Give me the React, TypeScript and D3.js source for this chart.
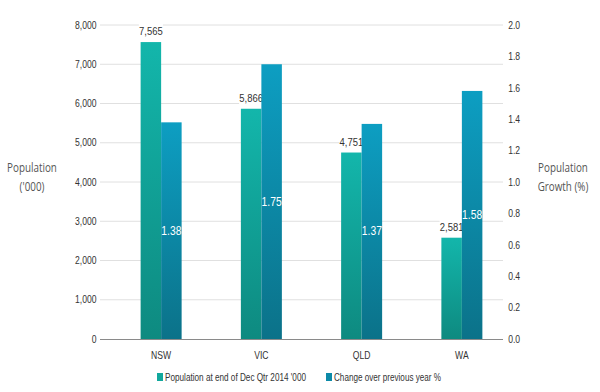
import { useRef, useEffect } from "react";
import * as d3 from "d3";

const states = ["NSW", "VIC", "QLD", "WA"];
const population = [7565, 5866, 4751, 2581];
const growth = [1.38, 1.75, 1.37, 1.58];
const leftTicks = [0, 1000, 2000, 3000, 4000, 5000, 6000, 7000, 8000];
const rightTicks = [0, 0.2, 0.4, 0.6, 0.8, 1.0, 1.2, 1.4, 1.6, 1.8, 2.0];
const seriesNames = ["Population at end of Dec Qtr 2014 '000", "Change over previous year %"];

const W = 600;
const H = 392;
const SX = 0.86;
const FONT = "'Liberation Sans', Arial, sans-serif";

export default function App() {
  const svgRef = useRef<SVGSVGElement>(null);

  useEffect(() => {
    document.body.style.margin = "0";
    if (!svgRef.current) return;
    const svg = d3.select(svgRef.current);
    svg.selectAll("*").remove();

    const plot = { left: 100, right: 503, top: 25, bottom: 339 };

    const x = d3.scaleBand().domain(states).range([111, 512]).padding(0);
    const x1 = d3.scaleBand().domain(["pop", "growth"]).range([-20.5, 20.5]);
    const yL = d3.scaleLinear().domain([0, 8000]).range([plot.bottom, plot.top]);
    const yR = d3.scaleLinear().domain([0, 2]).range([plot.bottom, plot.top]);

    const defs = svg.append("defs");
    const grads = [
      { id: "gPop", top: "#13b6ab", bottom: "#0e8a80" },
      { id: "gGrowth", top: "#0d9ec2", bottom: "#0b7289" },
    ];
    grads.forEach((g) => {
      const lg = defs.append("linearGradient").attr("id", g.id).attr("x1", 0).attr("y1", 0).attr("x2", 0).attr("y2", 1);
      lg.append("stop").attr("offset", "0%").attr("stop-color", g.top);
      lg.append("stop").attr("offset", "100%").attr("stop-color", g.bottom);
    });

    // gridlines
    svg
      .append("g")
      .selectAll("line")
      .data(leftTicks.filter((t) => t > 0))
      .join("line")
      .attr("x1", plot.left)
      .attr("x2", plot.right)
      .attr("y1", (d) => yL(d))
      .attr("y2", (d) => yL(d))
      .attr("stroke", "#e0e0e0")
      .attr("stroke-width", 1);

    // left tick labels
    const leftAxis = svg
      .append("g")
      .attr("transform", `translate(${plot.left},0)`)
      .call(d3.axisLeft(yL).tickValues(leftTicks).tickSize(0).tickPadding(4).tickFormat(d3.format(",")));
    leftAxis.select(".domain").remove();
    leftAxis
      .selectAll("text")
      .attr("font-family", FONT)
      .attr("font-size", 10)
      .attr("fill", "#333")
      .attr("transform", `scale(${SX},1)`);

    // right tick labels
    const rightAxis = svg
      .append("g")
      .attr("transform", `translate(${plot.right},0)`)
      .call(d3.axisRight(yR).tickValues(rightTicks).tickSize(0).tickPadding(6).tickFormat(d3.format(".1f")));
    rightAxis.select(".domain").remove();
    rightAxis
      .selectAll("text")
      .attr("font-family", FONT)
      .attr("font-size", 10)
      .attr("fill", "#333")
      .attr("transform", `scale(${SX},1)`);

    // bottom axis line
    svg
      .append("line")
      .attr("x1", plot.left)
      .attr("x2", plot.right)
      .attr("y1", plot.bottom + 0.5)
      .attr("y2", plot.bottom + 0.5)
      .attr("stroke", "#8a8a8a");

    // category labels
    svg
      .append("g")
      .selectAll("text")
      .data(states)
      .join("text")
      .attr("transform", (d) => `translate(${x(d)! + x.bandwidth() / 2},${plot.bottom + 20}) scale(${SX},1)`)
      .attr("text-anchor", "middle")
      .attr("font-family", FONT)
      .attr("font-size", 10)
      .attr("fill", "#333")
      .text((d) => d);

    const cx = (s: string) => x(s)! + x.bandwidth() / 2;

    // population bars
    svg
      .append("g")
      .selectAll("rect")
      .data(states)
      .join("rect")
      .attr("x", (d) => cx(d) + x1("pop")!)
      .attr("width", x1.bandwidth())
      .attr("y", (_, i) => yL(population[i]))
      .attr("height", (_, i) => plot.bottom - yL(population[i]))
      .attr("fill", "url(#gPop)");

    // population labels with white box
    const popLab = svg
      .append("g")
      .selectAll("g")
      .data(states)
      .join("g")
      .attr("transform", (d, i) => `translate(${cx(d) + x1("pop")! + x1.bandwidth() / 2},${yL(population[i]) - 7})`);
    popLab
      .append("rect")
      .attr("x", -12)
      .attr("y", -13)
      .attr("width", 24)
      .attr("height", 16)
      .attr("fill", "#fff");
    popLab
      .append("text")
      .attr("text-anchor", "middle")
      .attr("font-family", FONT)
      .attr("font-size", 11)
      .attr("fill", "#333")
      .attr("transform", `scale(${SX},1)`)
      .text((_, i) => d3.format(",")(population[i]));

    // growth bars
    svg
      .append("g")
      .selectAll("rect")
      .data(states)
      .join("rect")
      .attr("x", (d) => cx(d) + x1("growth")!)
      .attr("width", x1.bandwidth())
      .attr("y", (_, i) => yR(growth[i]))
      .attr("height", (_, i) => plot.bottom - yR(growth[i]))
      .attr("fill", "url(#gGrowth)");

    svg
      .append("g")
      .selectAll("text")
      .data(states)
      .join("text")
      .attr(
        "transform",
        (d, i) =>
          `translate(${cx(d) + x1("growth")! + x1.bandwidth() / 2},${(yR(growth[i]) + plot.bottom) / 2 + 4}) scale(${SX},1)`
      )
      .attr("text-anchor", "middle")
      .attr("font-family", FONT)
      .attr("font-size", 12)
      .attr("fill", "#fff")
      .text((_, i) => growth[i].toFixed(2));

    // axis titles
    const titleFont = "'Open Sans', 'Noto Sans', sans-serif";
    const addTitle = (xPos: number, lines: string[]) => {
      svg
        .append("g")
        .selectAll("text")
        .data(lines)
        .join("text")
        .attr("transform", (_, i) => `translate(${xPos},${172 + i * 19}) scale(0.82,1)`)
        .attr("text-anchor", "middle")
        .attr("font-family", titleFont)
        .attr("font-size", 12)
        .attr("fill", "#555")
        .text((d) => d);
    };
    addTitle(32, ["Population", "('000)"]);
    addTitle(563, ["Population", "Growth (%)"]);

    // legend
    const legend = [
      { x: 157, color: "#11a89d", len: 141 },
      { x: 326, color: "#0c8aa8", len: 107 },
    ];
    const lg = svg
      .append("g")
      .selectAll("g")
      .data(seriesNames)
      .join("g")
      .attr("transform", (_, i) => `translate(${legend[i].x},377)`);
    lg.append("rect")
      .attr("x", 0)
      .attr("y", -4)
      .attr("width", 6)
      .attr("height", 8)
      .attr("fill", (_, i) => legend[i].color);
    lg.append("text")
      .attr("x", 8)
      .attr("y", 4)
      .attr("font-family", FONT)
      .attr("font-size", 10.5)
      .attr("fill", "#333")
      .attr("textLength", (_, i) => legend[i].len)
      .attr("lengthAdjust", "spacingAndGlyphs")
      .text((d) => d);
  }, []);

  return <svg ref={svgRef} width={W} height={H} style={{ display: "block", background: "#fff" }} />;
}
